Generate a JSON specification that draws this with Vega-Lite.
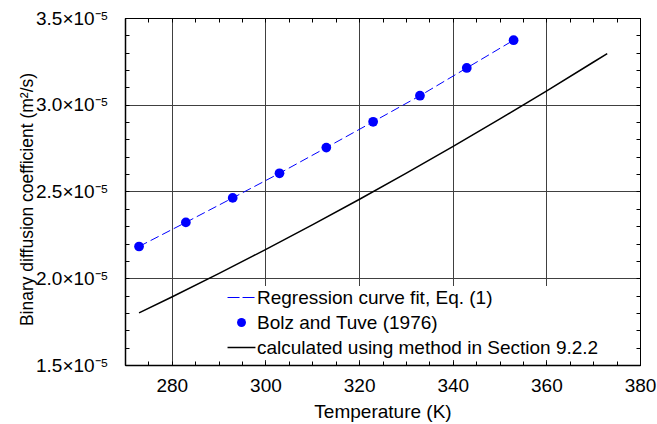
{
  "$schema": "https://vega.github.io/schema/vega-lite/v6.json",
  "width": 515,
  "height": 347,
  "autosize": "none",
  "padding": {"left": 125, "top": 18, "right": 17, "bottom": 59},
  "background": "white",
  "config": {
    "view": {"stroke": "black", "strokeWidth": 1},
    "font": "Liberation Sans",
    "axis": {
      "labelFont": "Liberation Sans", "labelFontSize": 19, "labelColor": "black",
      "titleFont": "Liberation Sans", "titleFontSize": 19, "titleFontWeight": "normal", "titleColor": "black",
      "tickColor": "black", "domainColor": "black", "gridColor": "#404040", "gridWidth": 1
    },
    "legend": {"labelFont": "Liberation Sans", "labelFontSize": 19, "labelColor": "black", "labelLimit": 0}
  },
  "data": {
    "values": [
      {"series": "Regression curve fit, Eq. (1)", "T": 273, "D": 0.00002183},
      {"series": "Regression curve fit, Eq. (1)", "T": 283, "D": 0.00002322},
      {"series": "Regression curve fit, Eq. (1)", "T": 293, "D": 0.00002463},
      {"series": "Regression curve fit, Eq. (1)", "T": 303, "D": 0.00002605},
      {"series": "Regression curve fit, Eq. (1)", "T": 313, "D": 0.00002753},
      {"series": "Regression curve fit, Eq. (1)", "T": 323, "D": 0.00002902},
      {"series": "Regression curve fit, Eq. (1)", "T": 333, "D": 0.00003052},
      {"series": "Regression curve fit, Eq. (1)", "T": 343, "D": 0.00003212},
      {"series": "Regression curve fit, Eq. (1)", "T": 353, "D": 0.00003372},
      {"series": "Bolz and Tuve (1976)", "T": 273, "D": 0.00002183},
      {"series": "Bolz and Tuve (1976)", "T": 283, "D": 0.00002322},
      {"series": "Bolz and Tuve (1976)", "T": 293, "D": 0.00002463},
      {"series": "Bolz and Tuve (1976)", "T": 303, "D": 0.00002605},
      {"series": "Bolz and Tuve (1976)", "T": 313, "D": 0.00002753},
      {"series": "Bolz and Tuve (1976)", "T": 323, "D": 0.00002902},
      {"series": "Bolz and Tuve (1976)", "T": 333, "D": 0.00003052},
      {"series": "Bolz and Tuve (1976)", "T": 343, "D": 0.00003212},
      {"series": "Bolz and Tuve (1976)", "T": 353, "D": 0.00003372},
      {"series": "calculated using method in Section 9.2.2", "T": 273, "D": 0.00001800},
      {"series": "calculated using method in Section 9.2.2", "T": 280, "D": 0.00001892},
      {"series": "calculated using method in Section 9.2.2", "T": 290, "D": 0.00002027},
      {"series": "calculated using method in Section 9.2.2", "T": 300, "D": 0.00002165},
      {"series": "calculated using method in Section 9.2.2", "T": 310, "D": 0.00002308},
      {"series": "calculated using method in Section 9.2.2", "T": 320, "D": 0.00002454},
      {"series": "calculated using method in Section 9.2.2", "T": 330, "D": 0.00002604},
      {"series": "calculated using method in Section 9.2.2", "T": 340, "D": 0.00002759},
      {"series": "calculated using method in Section 9.2.2", "T": 350, "D": 0.00002917},
      {"series": "calculated using method in Section 9.2.2", "T": 360, "D": 0.00003079},
      {"series": "calculated using method in Section 9.2.2", "T": 370, "D": 0.00003245},
      {"series": "calculated using method in Section 9.2.2", "T": 373, "D": 0.00003295}
    ]
  },
  "resolve": {"axis": {"x": "independent", "y": "independent"}},
  "layer": [
    {
      "transform": [{"filter": "datum.series === 'Regression curve fit, Eq. (1)'"}],
      "mark": {"type": "line", "strokeWidth": 1, "strokeDash": [9, 4]},
      "encoding": {
        "x": {
          "field": "T", "type": "quantitative",
          "scale": {"domain": [270, 380], "nice": false, "zero": false},
          "axis": {
            "orient": "bottom", "title": "Temperature (K)",
            "values": [270,275,280,285,290,295,300,305,310,315,320,325,330,335,340,345,350,355,360,365,370,375,380],
            "labelExpr": "datum.value % 20 == 0 ? datum.label : ''",
            "tickSize": -4, "labelPadding": 15, "titlePadding": 7,
            "domainWidth": 1.5, "labelFlush": false, "labelOverlap": false,
            "grid": true,
            "gridOpacity": {"condition": {"test": "datum.value % 20 == 0 && datum.value > 270 && datum.value < 380", "value": 1}, "value": 0}
          }
        },
        "y": {
          "field": "D", "type": "quantitative",
          "scale": {"domain": [0.000015, 0.000035], "nice": false, "zero": false},
          "axis": {
            "orient": "left", "title": "Binary diffusion coefficient (m²/s)",
            "values": [0.000015,0.000016,0.000017,0.000018,0.000019,0.000020,0.000021,0.000022,0.000023,0.000024,0.000025,0.000026,0.000027,0.000028,0.000029,0.000030,0.000031,0.000032,0.000033,0.000034,0.000035],
            "labelExpr": "round(datum.value*1e6) % 5 == 0 ? format(datum.value*1e5, '.1f') + '×10⁻⁵' : ''",
            "tickSize": -4, "labelPadding": 21, "titlePadding": -1, "titleY": 181, "titleFontSize": 17.5,
            "domainWidth": 1.5, "labelFlush": false, "labelOverlap": false,
            "grid": true,
            "gridOpacity": {"condition": {"test": "round(datum.value*1e6) % 5 == 0 && datum.value > 0.0000155 && datum.value < 0.0000345", "value": 1}, "value": 0}
          }
        },
        "color": {
          "field": "series", "type": "nominal",
          "scale": {
            "domain": ["Regression curve fit, Eq. (1)", "Bolz and Tuve (1976)", "calculated using method in Section 9.2.2"],
            "range": ["#0000ff", "#0000ff", "#000000"]
          },
          "legend": {
            "title": null, "orient": "none", "legendX": 105, "legendY": 268,
            "fillColor": "white", "padding": 2, "symbolSize": 780, "labelOffset": 6,
            "rowPadding": 5, "symbolType": "stroke", "labelLimit": 0,
            "encode": {
              "symbols": {
                "update": {
                  "shape": {"signal": "datum.value === 'Bolz and Tuve (1976)' ? 'circle' : 'stroke'"},
                  "size": {"signal": "datum.value === 'Bolz and Tuve (1976)' ? 80 : 780"},
                  "fill": {"signal": "datum.value === 'Bolz and Tuve (1976)' ? '#0000ff' : 'transparent'"},
                  "stroke": {"signal": "datum.value === 'calculated using method in Section 9.2.2' ? '#000000' : '#0000ff'"},
                  "strokeWidth": {"signal": "datum.value === 'Bolz and Tuve (1976)' ? 0 : (datum.value === 'calculated using method in Section 9.2.2' ? 1.5 : 1)"},
                  "strokeDash": {"signal": "datum.value === 'Regression curve fit, Eq. (1)' ? [12, 3] : [1, 0]"},
                  "opacity": {"value": 1}
                }
              }
            }
          }
        }
      }
    },
    {
      "transform": [{"filter": "datum.series === 'Bolz and Tuve (1976)'"}],
      "mark": {"type": "point", "filled": true, "size": 95, "opacity": 1},
      "encoding": {
        "x": {"field": "T", "type": "quantitative", "axis": null},
        "y": {"field": "D", "type": "quantitative", "axis": null},
        "color": {"field": "series", "type": "nominal"}
      }
    },
    {
      "transform": [{"filter": "datum.series === 'calculated using method in Section 9.2.2'"}],
      "mark": {"type": "line", "strokeWidth": 1.5},
      "encoding": {
        "x": {
          "field": "T", "type": "quantitative",
          "axis": {
            "orient": "top", "title": null, "labels": false, "grid": false,
            "values": [270,275,280,285,290,295,300,305,310,315,320,325,330,335,340,345,350,355,360,365,370,375,380],
            "tickSize": -4
          }
        },
        "y": {
          "field": "D", "type": "quantitative",
          "axis": {
            "orient": "right", "title": null, "labels": false, "grid": false,
            "values": [0.000015,0.000016,0.000017,0.000018,0.000019,0.000020,0.000021,0.000022,0.000023,0.000024,0.000025,0.000026,0.000027,0.000028,0.000029,0.000030,0.000031,0.000032,0.000033,0.000034,0.000035],
            "tickSize": -4
          }
        },
        "color": {"field": "series", "type": "nominal"}
      }
    }
  ]
}
